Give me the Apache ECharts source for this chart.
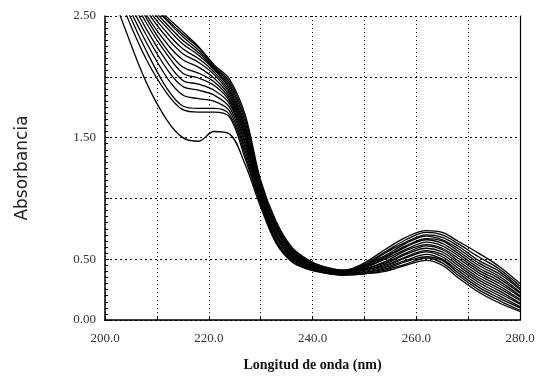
<!DOCTYPE html>
<html>
<head>
<meta charset="utf-8">
<script src="https://cdn.jsdelivr.net/npm/echarts@6/dist/echarts.min.js"></script>
<style>
  html, body { margin: 0; padding: 0; background: #fff; }
  #chart { width: 548px; height: 381px; }
</style>
</head>
<body>
<div id="chart"></div>
<script>
// longitudes de onda (nm) donde se leyeron los espectros
const longitudes = [200, 204, 208, 212, 215, 218, 221, 224, 227, 230, 233, 236, 239, 242, 246, 250, 254, 258, 262, 265, 268, 272, 276, 280]

// absorbancia de los 16 espectros en cada longitud de onda (espectro 1 -> 16)
const a200 = [2.85, 2.95, 3.02, 3.08, 3.14, 3.20, 3.26, 3.32, 3.38, 3.44, 3.50, 3.56, 3.62, 3.68, 3.74, 3.80]
const a204 = [2.38, 2.52, 2.58, 2.63, 2.68, 2.73, 2.78, 2.83, 2.88, 2.93, 2.98, 3.03, 3.08, 3.13, 3.18, 3.22]
const a208 = [1.95, 2.14, 2.21, 2.28, 2.34, 2.39, 2.44, 2.48, 2.51, 2.55, 2.58, 2.61, 2.63, 2.65, 2.66, 2.67]
const a212 = [1.64, 1.86, 1.90, 1.99, 2.06, 2.12, 2.18, 2.22, 2.27, 2.32, 2.36, 2.40, 2.43, 2.46, 2.47, 2.49]
const a215 = [1.50, 1.73, 1.76, 1.85, 1.92, 1.97, 2.03, 2.08, 2.14, 2.19, 2.23, 2.27, 2.30, 2.33, 2.35, 2.37]
const a218 = [1.47, 1.71, 1.74, 1.82, 1.89, 1.94, 1.99, 2.03, 2.08, 2.12, 2.15, 2.18, 2.20, 2.22, 2.24, 2.25]
const a221 = [1.55, 1.71, 1.74, 1.80, 1.85, 1.89, 1.93, 1.96, 1.99, 2.02, 2.04, 2.06, 2.07, 2.08, 2.09, 2.10]
const a224 = [1.53, 1.67, 1.69, 1.72, 1.75, 1.78, 1.80, 1.82, 1.84, 1.86, 1.88, 1.90, 1.92, 1.94, 1.96, 1.98]
const a227 = [1.28, 1.33, 1.36, 1.39, 1.42, 1.45, 1.47, 1.50, 1.52, 1.54, 1.56, 1.58, 1.60, 1.63, 1.66, 1.69]
const a230 = [0.93, 0.95, 0.96, 0.98, 0.99, 1.00, 1.02, 1.03, 1.04, 1.06, 1.07, 1.08, 1.10, 1.11, 1.13, 1.15]
const a233 = [0.63, 0.64, 0.65, 0.66, 0.68, 0.69, 0.70, 0.71, 0.72, 0.74, 0.75, 0.76, 0.77, 0.78, 0.80, 0.81]
const a236 = [0.48, 0.49, 0.49, 0.50, 0.51, 0.52, 0.52, 0.53, 0.54, 0.55, 0.56, 0.56, 0.57, 0.58, 0.59, 0.60]
const a239 = [0.42, 0.42, 0.43, 0.43, 0.44, 0.44, 0.45, 0.45, 0.46, 0.46, 0.47, 0.47, 0.48, 0.48, 0.49, 0.50]
const a242 = [0.39, 0.39, 0.40, 0.40, 0.40, 0.41, 0.41, 0.41, 0.42, 0.42, 0.42, 0.43, 0.43, 0.43, 0.44, 0.44]
const a246 = [0.37, 0.37, 0.38, 0.38, 0.38, 0.38, 0.39, 0.39, 0.39, 0.39, 0.40, 0.40, 0.40, 0.40, 0.41, 0.41]
const a250 = [0.38, 0.38, 0.39, 0.39, 0.40, 0.41, 0.41, 0.42, 0.42, 0.43, 0.43, 0.44, 0.45, 0.45, 0.46, 0.47]
const a254 = [0.40, 0.41, 0.42, 0.43, 0.44, 0.45, 0.46, 0.47, 0.48, 0.50, 0.51, 0.52, 0.53, 0.55, 0.56, 0.58]
const a258 = [0.45, 0.46, 0.48, 0.49, 0.51, 0.52, 0.54, 0.55, 0.57, 0.58, 0.60, 0.61, 0.63, 0.64, 0.66, 0.68]
const a262 = [0.49, 0.51, 0.52, 0.54, 0.56, 0.57, 0.59, 0.61, 0.62, 0.64, 0.66, 0.67, 0.69, 0.70, 0.72, 0.735]
const a265 = [0.45, 0.47, 0.49, 0.50, 0.52, 0.54, 0.56, 0.58, 0.59, 0.61, 0.63, 0.65, 0.66, 0.68, 0.70, 0.72]
const a268 = [0.35, 0.37, 0.39, 0.41, 0.43, 0.45, 0.47, 0.49, 0.51, 0.53, 0.55, 0.57, 0.59, 0.61, 0.63, 0.65]
const a272 = [0.23, 0.25, 0.27, 0.29, 0.31, 0.33, 0.35, 0.37, 0.39, 0.41, 0.43, 0.45, 0.47, 0.49, 0.52, 0.55]
const a276 = [0.14, 0.16, 0.18, 0.20, 0.22, 0.24, 0.26, 0.28, 0.30, 0.32, 0.34, 0.36, 0.38, 0.40, 0.42, 0.44]
const a280 = [0.07, 0.08, 0.10, 0.11, 0.13, 0.14, 0.16, 0.17, 0.19, 0.20, 0.22, 0.23, 0.25, 0.26, 0.28, 0.30]

const filas = [a200, a204, a208, a212, a215, a218, a221, a224, a227, a230, a233, a236,
  a239, a242, a246, a250, a254, a258, a262, a265, a268, a272, a276, a280]

// etiquetas visibles del eje y
const etiquetasY = [0, 0.5, 1.5, 2.5]

const serifFont = '"Liberation Serif", "DejaVu Serif", serif'

const chart = echarts.init(document.getElementById('chart'))

const series = a200.map((_, k) => ({
  type: 'line',
  data: longitudes.map((nm, i) => [nm, filas[i][k]]),
  showSymbol: false,
  smooth: 0.35,
  clip: true,
  lineStyle: { color: '#000', width: 1.3 },
  silent: true
}))

chart.setOption({
  animation: false,
  backgroundColor: '#fff',
  grid: { left: 105, right: 28, top: 16, bottom: 61, show: false },
  xAxis: [
    {
      type: 'value',
      min: 200,
      max: 280,
      interval: 10,
      name: 'Longitud de onda (nm)',
      nameLocation: 'middle',
      nameGap: 38,
      nameTextStyle: { fontFamily: serifFont, fontSize: 14, color: '#111', fontWeight: 'bold' },
      axisLine: { lineStyle: { color: '#000', width: 1.5 } },
      axisTick: { show: true, inside: true, length: 3, lineStyle: { color: '#000' } },
      axisLabel: {
        fontFamily: serifFont,
        fontSize: 13,
        color: '#333',
        margin: 12,
        formatter: (v) => (v % 20 === 0 ? v.toFixed(1) : '')
      },
      splitLine: { show: true, lineStyle: { color: '#000', type: [1, 3], width: 1 } }
    },
    {
      type: 'value',
      position: 'top',
      min: 200,
      max: 280,
      axisLine: { show: true, lineStyle: { color: '#000', type: [2, 3], width: 1 } },
      axisTick: { show: false },
      axisLabel: { show: false },
      splitLine: { show: false }
    }
  ],
  yAxis: [
    {
      type: 'value',
      min: 0,
      max: 2.5,
      interval: 0.5,
      name: 'Absorbancia',
      nameLocation: 'middle',
      nameGap: 74,
      nameTextStyle: { fontFamily: '"DejaVu Sans", "Liberation Sans", sans-serif', fontSize: 17, color: '#222' },
      axisLine: { show: true, lineStyle: { color: '#000', width: 1.5 } },
      axisTick: { show: true, inside: true, length: 4, lineStyle: { color: '#000' } },
      minorTick: { show: true, splitNumber: 10, length: 3, lineStyle: { color: '#000' } },
      axisLabel: {
        fontFamily: serifFont,
        fontSize: 13,
        color: '#333',
        margin: 9,
        formatter: (v) => (etiquetasY.some((e) => Math.abs(e - v) < 1e-6) ? v.toFixed(2) : '')
      },
      splitLine: { show: true, lineStyle: { color: '#000', type: [2, 3], width: 1 } }
    },
    {
      type: 'value',
      position: 'right',
      min: 0,
      max: 2.5,
      axisLine: { show: true, lineStyle: { color: '#000', width: 1.2 } },
      axisTick: { show: false },
      axisLabel: { show: false },
      splitLine: { show: false }
    }
  ],
  series: series
})
</script>
</body>
</html>
